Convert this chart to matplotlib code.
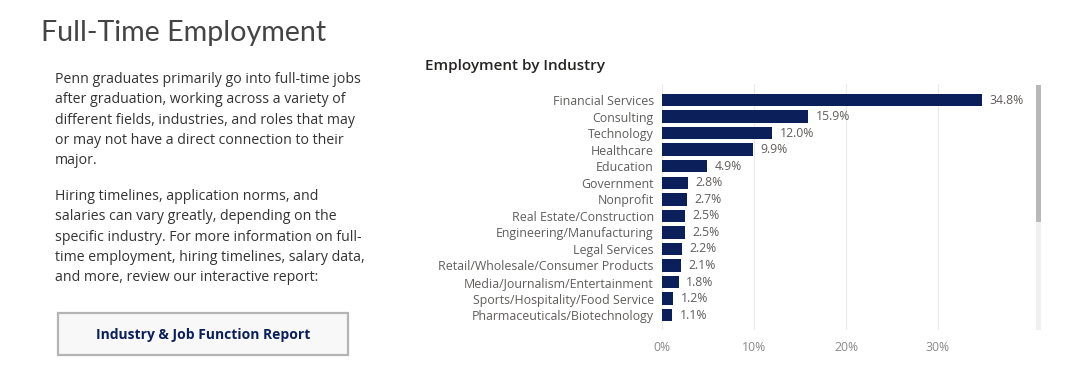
import matplotlib.pyplot as plt
from matplotlib.patches import Rectangle
from matplotlib.ticker import FuncFormatter

industries = ["Financial Services", "Consulting", "Technology", "Healthcare", "Education",
              "Government", "Nonprofit", "Real Estate/Construction", "Engineering/Manufacturing",
              "Legal Services", "Retail/Wholesale/Consumer Products", "Media/Journalism/Entertainment",
              "Sports/Hospitality/Food Service", "Pharmaceuticals/Biotechnology"]
shares = [34.8, 15.9, 12.0, 9.9, 4.9, 2.8, 2.7, 2.5, 2.5, 2.2, 2.1, 1.8, 1.2, 1.1]
x_ticks = [0, 10, 20, 30]

heading = "Full-Time Employment"
para1 = ("Penn graduates primarily go into full-time jobs\n"
         "after graduation, working across a variety of\n"
         "different fields, industries, and roles that may\n"
         "or may not have a direct connection to their\n"
         "major.")
para2 = ("Hiring timelines, application norms, and\n"
         "salaries can vary greatly, depending on the\n"
         "specific industry. For more information on full-\n"
         "time employment, hiring timelines, salary data,\n"
         "and more, review our interactive report:")
button_label = "Industry & Job Function Report"
chart_title = "Employment by Industry"

navy = "#0b1f5b"
gray = "#605e5c"
plt.rcParams['font.family'] = ['Open Sans', 'DejaVu Sans']

W, H = 1080, 374
fig = plt.figure(figsize=(W / 100, H / 100), dpi=100)
fig.patch.set_facecolor("white")

def fx(px):
    return px / W

def fy(py):
    return 1 - py / H

# left text column
fig.text(fx(41), fy(33), heading, fontsize=20.6, color="#444444", va="center", ha="left",
         family=['Lato', 'DejaVu Sans'])
fig.text(fx(55), fy(72), para1, fontsize=10.2, color="#333333", va="top", ha="left", linespacing=1.48)
fig.text(fx(55), fy(189), para2, fontsize=10.2, color="#333333", va="top", ha="left", linespacing=1.48)

fig.patches.append(Rectangle((fx(58), fy(355)), fx(348) - fx(58), fy(313) - fy(355),
                             transform=fig.transFigure, facecolor="#f8f8f8",
                             edgecolor="#b4b4b4", linewidth=1.6))
fig.text(fx(203), fy(335), button_label, fontsize=10, color="#0b1f5b", fontweight="bold",
         ha="center", va="center")

# chart
fig.text(fx(425), fy(66), chart_title, fontsize=11, color="#252423", fontweight="semibold",
         ha="left", va="center")

ax = fig.add_axes([fx(662), fy(330), fx(1030) - fx(662), fy(84) - fy(330)])
pos = list(range(len(industries)))
ax.barh(pos, shares, height=0.75, color=navy)
for p, v in zip(pos, shares):
    ax.text(v + 0.8, p, f"{v:.1f}%", fontsize=8.8, color=gray, va="center", ha="left")

ax.set_ylim(13.9, -0.97)
ax.set_xlim(0, 40)
ax.set_yticks(pos)
ax.set_yticklabels(industries, fontsize=8.9, color=gray)
ax.set_xticks(x_ticks)
ax.xaxis.set_major_formatter(FuncFormatter(lambda v, _: f"{v:.0f}%"))
ax.tick_params(axis="x", labelsize=8.8, labelcolor="#8a8a8a", length=0, pad=8)
ax.tick_params(axis="y", length=0, pad=6)
ax.grid(axis="x", color="#eaeaea", linewidth=0.8)
ax.set_axisbelow(True)
for s in ax.spines.values():
    s.set_visible(False)

# scrollbar
fig.patches.append(Rectangle((fx(1036), fy(330)), fx(5), fy(85) - fy(330),
                             transform=fig.transFigure, facecolor="#f0f0f0", edgecolor="none"))
fig.patches.append(Rectangle((fx(1036), fy(222)), fx(5), fy(85) - fy(222),
                             transform=fig.transFigure, facecolor="#b8b8b8", edgecolor="none"))

fig.savefig("out.png", dpi=100)
